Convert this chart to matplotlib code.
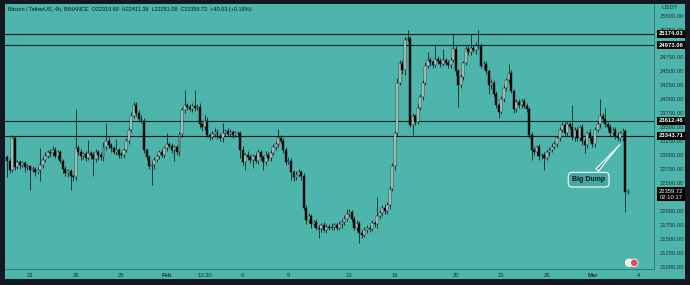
import pandas as pd
import matplotlib
matplotlib.use("Agg")
import matplotlib.pyplot as plt
import matplotlib.dates as mdates
from matplotlib.patches import Rectangle

plt.rcParams['font.family'] = ['Liberation Sans', 'DejaVu Sans']

# 4h candles, BTC/USDT, 21 Jan 12:00 -> 3 Mar 08:00 (2023)
first_open = 22960
closes = [
    22900, 22740, 23300, 22790, 22880, 22820, 22860, 22780, 22800, 22740,
    22760, 22700, 22730, 22830, 22920, 22990, 23060, 23030, 23100, 22990,
    23050, 22900, 22760, 22680, 22720, 22630, 22600, 23120, 23060, 22980,
    23020, 22950, 23040, 23000, 22930, 23060, 23000, 22960, 23150, 23260,
    23180, 23120, 23060, 23090, 23010, 23000, 23090, 23250, 23450, 23700,
    23900, 23760, 23650, 23620, 23100, 22960, 22800, 22820, 22920, 22980,
    23050, 23000, 23120, 23200, 23160, 23100, 23140, 23050, 23380, 23810,
    23900, 23860, 23830, 23880, 23840, 23870, 23560, 23500, 23620, 23360,
    23330, 23380, 23420, 23350, 23300, 23400, 23430, 23380, 23410, 23360,
    23390, 23400, 23100, 22880, 23000, 22960, 22920, 22980, 22900, 23050,
    22960, 22870, 23010, 22950, 23040, 23150, 23200, 23300, 23250, 23100,
    22880, 22900, 22700, 22600, 22650, 22700, 22620, 22050, 21830, 21900,
    21760, 21800, 21700, 21680, 21740, 21660, 21720, 21700, 21720, 21750,
    21700, 21760, 21800, 21860, 21950, 21980, 21850, 21700, 21780, 21600,
    21570, 21650, 21700, 21680, 21780, 21760, 21900, 21960, 22050, 22000,
    22100, 22400, 22800, 23400, 24300, 24650, 24520, 25060, 25100, 23540,
    23700, 23600, 23850, 24050, 24300, 24600, 24700, 24660, 24620, 24720,
    24680, 24640, 24700, 24650, 24620, 24700, 24900, 24500, 24250, 24400,
    24650, 24900, 24850, 24920, 24880, 24960, 24950, 24600, 24640, 24500,
    24250, 24300, 24100, 23900, 23780, 24000, 24200, 24350, 24470, 24150,
    23820, 23950, 23900, 23970, 23880, 23820, 23360, 23100, 23050, 23150,
    22980, 23000, 22950, 23050, 23100, 23150, 23200, 23300, 23450, 23540,
    23400, 23550, 23500, 23320, 23450, 23300, 23500, 23250, 23180, 23400,
    23300, 23200, 23450, 23550, 23700, 23650, 23550, 23500, 23400, 23450,
    23350, 23300, 23400, 23440, 22340, 22360,
]
upper_wick = [
    50, 40, 60, 30, 40, 30, 40, 30, 40, 30,
    40, 30, 50, 300, 40, 60, 40, 50, 60, 40,
    40, 40, 30, 40, 30, 40, 40, 700, 60, 50,
    40, 60, 230, 40, 60, 50, 40, 60, 80, 310,
    60, 40, 50, 200, 40, 50, 40, 60, 50, 80,
    60, 50, 40, 60, 40, 30, 40, 60, 50, 40,
    50, 60, 40, 200, 40, 60, 40, 50, 40, 60,
    270, 40, 60, 50, 290, 40, 60, 40, 100, 60,
    40, 50, 60, 40, 50, 170, 40, 60, 50, 40,
    50, 40, 40, 60, 40, 80, 60, 40, 50, 60,
    40, 50, 60, 40, 60, 50, 60, 170, 60, 50,
    40, 60, 50, 40, 60, 50, 40, 60, 50, 60,
    50, 40, 60, 40, 50, 60, 40, 50, 60, 40,
    40, 60, 50, 60, 80, 50, 40, 60, 50, 40,
    50, 60, 40, 50, 60, 40, 350, 60, 50, 60,
    60, 40, 50, 40, 80, 50, 60, 60, 140, 30,
    60, 40, 60, 50, 40, 60, 150, 50, 40, 250,
    50, 60, 200, 40, 60, 50, 280, 60, 40, 50,
    40, 60, 50, 250, 40, 60, 290, 60, 50, 40,
    50, 60, 40, 50, 40, 60, 50, 40, 170, 60,
    40, 60, 50, 40, 60, 50, 40, 60, 50, 40,
    50, 40, 60, 50, 40, 60, 50, 40, 60, 50,
    60, 50, 40, 400, 60, 50, 40, 60, 50, 40,
    60, 40, 50, 60, 300, 50, 200, 40, 60, 50,
    50, 60, 40, 50, 30, 40,
]
lower_wick = [
    300, 60, 40, 60, 40, 70, 40, 80, 50, 360,
    50, 70, 40, 200, 60, 50, 40, 60, 50, 40,
    60, 40, 80, 60, 70, 250, 60, 40, 50, 60,
    50, 60, 40, 70, 300, 50, 80, 40, 60, 50,
    50, 60, 40, 50, 70, 60, 50, 40, 50, 40,
    40, 60, 50, 40, 60, 50, 40, 340, 60, 50,
    50, 40, 60, 50, 40, 60, 200, 40, 60, 50,
    60, 50, 40, 60, 50, 40, 80, 60, 50, 40,
    60, 40, 50, 70, 40, 60, 50, 40, 60, 50,
    40, 60, 150, 60, 150, 50, 60, 150, 40, 60,
    50, 130, 40, 60, 50, 40, 60, 50, 40, 60,
    60, 40, 150, 60, 40, 50, 60, 40, 60, 50,
    60, 50, 40, 166, 50, 40, 60, 50, 40, 60,
    50, 40, 60, 50, 40, 60, 50, 40, 60, 180,
    60, 40, 50, 60, 40, 50, 60, 40, 50, 60,
    50, 60, 40, 60, 50, 40, 60, 80, 40, 30,
    180, 60, 50, 40, 60, 50, 40, 60, 50, 40,
    40, 60, 50, 40, 60, 50, 40, 60, 390, 50,
    50, 40, 60, 50, 40, 60, 50, 40, 60, 50,
    150, 60, 50, 60, 120, 50, 40, 60, 50, 40,
    60, 40, 50, 60, 40, 50, 60, 180, 50, 60,
    60, 50, 220, 40, 60, 50, 40, 60, 50, 40,
    50, 60, 40, 50, 60, 40, 50, 60, 150, 50,
    40, 60, 50, 40, 60, 50, 40, 60, 50, 40,
    60, 40, 50, 150, 360, 40,
]

levels = [25174.03, 24973.06, 23612.46, 23343.71]
last_price = 22359.72
countdown = "02:10:17"
price_ticks = list(range(21000, 25501, 250))
hidden_ticks = [25000, 22250]  # covered by the price boxes
date_ticks = ["2023-01-23 00:00", "2023-01-26 00:00", "2023-01-29 00:00", "2023-02-01 00:00",
              "2023-02-03 12:00", "2023-02-06 00:00", "2023-02-09 00:00", "2023-02-13 00:00",
              "2023-02-16 00:00", "2023-02-20 00:00", "2023-02-23 00:00", "2023-02-26 00:00",
              "2023-03-01 00:00", "2023-03-04 00:00"]
date_labels = ["23", "26", "29", "Feb", "13:30", "6", "9", "13", "16", "20",
               "23", "26", "Mar", "4"]
title = ("Bitcoin / TetherUS, 4h, BINANCE  O22319.69  H22411.36  L22251.08  "
         "C22359.72  +40.03 (+0.18%)")

teal = '#4db5ab'
ink = '#0e1616'

df = pd.DataFrame({'close': closes, 'uw': upper_wick, 'lw': lower_wick})
df['open'] = [first_open] + closes[:-1]
df['top'] = df[['open', 'close']].max(axis=1)
df['bot'] = df[['open', 'close']].min(axis=1)
df['high'] = df['top'] + df['uw']
df['low'] = df['bot'] - df['lw']
t = mdates.date2num(pd.date_range("2023-01-21 12:00", periods=len(df), freq="4h"))

fig = plt.figure(figsize=(6.9, 2.85), dpi=100)
fig.patch.set_facecolor('#131722')
fig.add_artist(Rectangle((5 / 690, 6 / 285), 680 / 690, 275 / 285,
                         transform=fig.transFigure, fc=teal, ec='none', zorder=0))
ax = fig.add_axes([5 / 690, 16 / 285, 649 / 690, 265 / 285])
ax.set_facecolor(teal)

up = df['close'] >= df['open']
body_h = (df['top'] - df['bot']).clip(lower=14)
ax.vlines(t, df['low'], df['high'], color=ink, lw=0.55, zorder=2)
ax.bar(t, body_h, bottom=df['bot'], width=0.13,
       color=['#dfe7e5' if u else '#030606' for u in up],
       edgecolor=ink, linewidth=0.35, zorder=3)

for lv in levels:
    ax.axhline(lv, color='#0c1c1c', lw=0.8, zorder=1)

ax.set_xlim(mdates.date2num(pd.Timestamp("2023-01-21 08:30")),
            mdates.date2num(pd.Timestamp("2023-03-05 01:10")))
ax.set_ylim(20959, 25708)

ax.set_xticks(mdates.date2num(pd.to_datetime(date_ticks, format="%Y-%m-%d %H:%M")))
ax.set_xticklabels(date_labels)
for lab in ax.get_xticklabels():
    if lab.get_text() in ("Feb", "Mar"):
        lab.set_fontweight('bold')
ax.yaxis.tick_right()
ax.set_yticks(price_ticks)
ax.set_yticklabels(["" if p in hidden_ticks else f"{p:.2f}" for p in price_ticks])
ax.tick_params(axis='both', length=0, labelsize=4.2, colors='#1d3533')
ax.tick_params(axis='x', pad=3)
ax.tick_params(axis='y', pad=4)
for s in ('top', 'left'):
    ax.spines[s].set_visible(False)
for s in ('right', 'bottom'):
    ax.spines[s].set_color('#2f6e68')
    ax.spines[s].set_linewidth(0.6)

for lv in levels:
    ax.text(1.026, lv, f"{lv:.2f}", transform=ax.get_yaxis_transform(),
            ha='center', va='center', fontsize=4.2, color='white', fontweight='bold',
            bbox=dict(boxstyle='square,pad=0.3', fc='black', ec='none'),
            clip_on=False, zorder=5)
ax.text(1.026, last_price + 40, f"{last_price:.2f}\n{countdown}",
        transform=ax.get_yaxis_transform(), ha='center', va='top',
        fontsize=4.2, color='white', linespacing=1.25,
        bbox=dict(boxstyle='square,pad=0.3', fc='black', ec='none'),
        clip_on=False, zorder=5)
ax.text(1.012, 0.985, "USDT", transform=ax.transAxes, ha='left', va='center',
        fontsize=4.2, color='#1d3533', clip_on=False)

fig.text(8 / 690, 1 - 9 / 285, title, ha='left', va='center', fontsize=4.0, color=ink)

ax.annotate("Big Dump", xy=(t[242] + 0.1, df['low'][242] - 20),
            xytext=(mdates.date2num(pd.Timestamp("2023-02-28 18:00")), 22560),
            ha='center', va='center', fontsize=5, color=ink, fontweight='bold',
            bbox=dict(boxstyle='round,pad=0.55', fc='#45aaa0', ec='white', lw=0.8),
            arrowprops=dict(arrowstyle='wedge,tail_width=0.5,shrink_factor=0.4',
                            fc='#45aaa0', ec='white', lw=0.8),
            zorder=6)

# small event icons near the time axis
ax.scatter([mdates.date2num(pd.Timestamp("2023-03-03 10:00")),
            mdates.date2num(pd.Timestamp("2023-03-03 18:00"))],
           [21070, 21070], s=[30, 30], c=['#f3eef5', '#e94b5a'],
           edgecolors='white', linewidths=0.6, zorder=4, clip_on=False)

fig.savefig("out.png", dpi=100, facecolor=fig.get_facecolor())
